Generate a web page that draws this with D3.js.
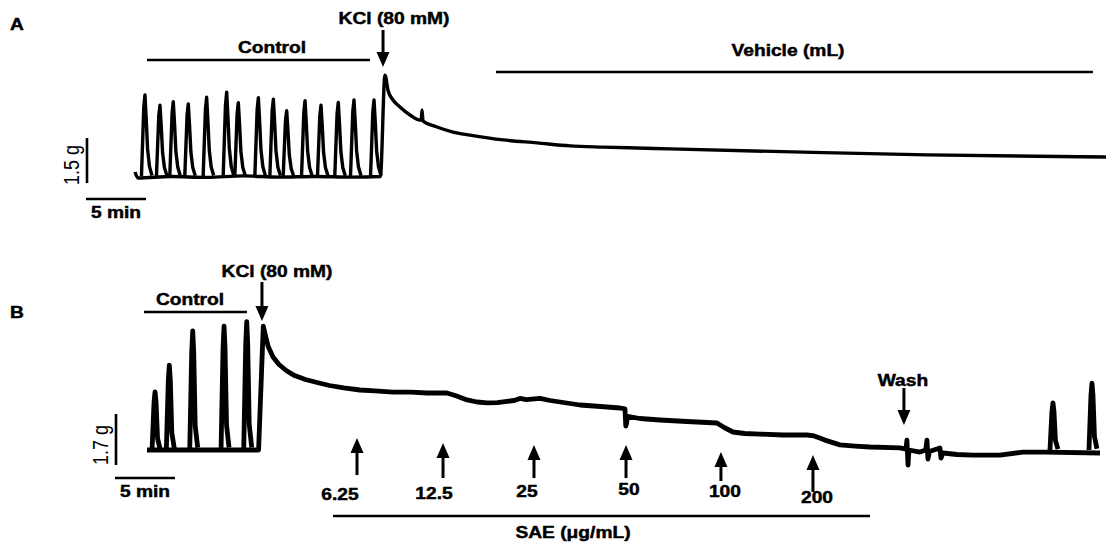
<!DOCTYPE html>
<html>
<head>
<meta charset="utf-8">
<script src="https://cdn.jsdelivr.net/npm/d3@7"></script>
<style>
  body { margin: 0; background: #fff; }
  text { font-family: "Liberation Sans", Arial, sans-serif; fill: #000; }
  .lbl { font-weight: bold; font-size: 16px; stroke: #000; stroke-width: 0.45px; }
  .cal { font-size: 18px; }
</style>
</head>
<body>
<svg id="fig" width="1106" height="544"></svg>
<script>
// ---- panel A: time (min) / force (g) ----
var tonicA = [
  [0, 0.2], [0.25, 0], [3, 0.05], [6, 0.02], [9, 0.07], [12, 0.03], [15, 0.05],
  [18, 0.03], [20.45, 0.05], [20.83, 3.43], [21.1, 2.9], [21.5, 2.6], [22.08, 2.37],
  [22.92, 2.1], [23.75, 1.93], [23.85, 1.93], [23.92, 2.27], [24.0, 1.9],
  [25.17, 1.7], [26.5, 1.53], [27.92, 1.43], [30.67, 1.27], [33.5, 1.17],
  [36.25, 1.07], [39, 1.03], [41.83, 1.0], [44.58, 0.97], [54.83, 0.87],
  [66, 0.77], [80.92, 0.7]
];
var spikeTimeA  = [0.83, 2.08, 3.19, 4.44, 5.97, 7.64, 8.61, 10.28, 11.53, 12.64, 14.17, 15.5, 16.94, 18.25, 19.92];
var spikeForceA = [2.77, 2.43, 2.54, 2.47, 2.69, 2.86, 2.51, 2.68, 2.63, 2.24, 2.58, 2.43, 2.52, 2.6, 2.6];

var periodsA = [
  { name: "Control", from: 1, to: 19.58 },
  { name: "Vehicle (mL)", from: 30.08, to: 79.83 }
];
var kclTimeA = 20.67;

// ---- panel B ----
var tonicB = [
  [0, 0], [9.3, 0], [9.69, 4.13], [9.85, 3.85], [10.1, 3.45], [10.5, 3.1],
  [11.0, 2.85], [11.6, 2.65], [12.3, 2.48], [13.2, 2.35], [14.17, 2.25],
  [15.2, 2.15], [16.4, 2.07], [17.75, 2.0], [19, 1.97], [20.5, 1.93],
  [22, 1.93], [23.33, 1.9], [25, 1.9], [25.8, 1.8], [26.67, 1.67],
  [27.5, 1.6], [28.33, 1.57], [29.2, 1.58], [30, 1.62], [30.6, 1.65],
  [31.08, 1.72], [31.6, 1.68], [32.75, 1.72], [33.6, 1.65], [34.42, 1.6],
  [36.08, 1.5], [37.8, 1.45], [39.42, 1.4], [39.83, 1.37], [39.9, 0.8],
  [39.97, 0.9], [40.05, 1.12], [41.08, 1.05], [42.75, 1.0], [45, 0.95],
  [47.5, 0.9], [48.1, 0.75], [48.83, 0.6], [49.8, 0.55], [51.08, 0.53],
  [53, 0.5], [55, 0.5], [55.6, 0.47], [56.5, 0.33], [57.75, 0.17],
  [59, 0.13], [60.25, 0.1], [62.75, 0.07], [63.25, 0.03], [63.33, 0.33],
  [63.42, -0.5], [63.5, 0], [64.42, -0.07], [64.9, 0.0], [65.0, 0.33],
  [65.08, -0.3], [65.2, -0.05], [66.08, 0.07], [66.17, -0.27], [66.33, -0.1],
  [67.5, -0.15], [68.83, -0.17], [71.08, -0.17], [73, -0.07], [74.83, -0.07],
  [79.42, -0.1]
];
var spikeTimeB  = [0.67, 1.86, 3.81, 6.42, 8.31, 75.5, 78.75];
var spikeForceB = [1.94, 2.83, 3.97, 4.13, 4.28, 1.57, 2.23];

var periodsB = [
  { name: "Control", from: -0.25, to: 8.33 },
  { name: "SAE (\u03bcg/mL)", from: 15.5, to: 60.25 }
];
var kclTimeB = 9.58;
var washTime = 63.08;
var doseTimes  = [17.5, 24.67, 32.25, 39.92, 47.83, 55.5];
var doseLabels = ["6.25", "12.5", "25", "50", "100", "200"];

// ---- layout ----
var svg = d3.select("#fig");
var stretch = 1.2;   // the figure text is a little wide

var xA = d3.scaleLinear().domain([0, 80.92]).range([135, 1106]);
var yA = d3.scaleLinear().domain([0, 1.5]).range([178, 133]);
var xB = d3.scaleLinear().domain([0, 79.42]).range([147, 1100]);
var yB = d3.scaleLinear().domain([0, 1.7]).range([450, 399]);

function label(x, y, str, cls, anchor) {
  return svg.append("text")
    .attr("class", cls || "lbl")
    .attr("text-anchor", anchor || "middle")
    .attr("transform", "translate(" + x + "," + y + ") scale(" + stretch + ",1)")
    .text(str);
}

function hline(x1, x2, y) {
  svg.append("line")
    .attr("x1", x1).attr("x2", x2).attr("y1", y).attr("y2", y)
    .attr("stroke", "#000").attr("stroke-width", 2.6);
}

function arrow(x, yTail, yTip) {
  var dir = yTip > yTail ? 1 : -1;
  var h = 15, w = 6.5;
  svg.append("line")
    .attr("x1", x).attr("x2", x)
    .attr("y1", yTail).attr("y2", yTip - dir * (h - 1))
    .attr("stroke", "#000").attr("stroke-width", 3);
  svg.append("path")
    .attr("d", "M" + (x - w) + "," + (yTip - dir * h) + "L" + (x + w) + "," + (yTip - dir * h) + "L" + x + "," + yTip + "Z")
    .attr("fill", "#000");
}

// spike outline: px offset from peak time, fraction of peak force
var shapeA = [[-3.5, 0.02], [-1.2, 0.85], [0, 1], [1.3, 0.7], [2.6, 0.35], [4.5, 0.14], [7, 0.03]];
var shapeB = [[-3, 0], [-1, 0.82], [0, 1], [1, 0.82], [2.5, 0.2], [5, 0.02]];

function drawTrace(tonic, times, forces, shape, x, y, width, curve) {
  var line = d3.line()
    .x(function(d) { return x(d[0]); })
    .y(function(d) { return y(d[1]); })
    .curve(curve);

  svg.append("path")
    .attr("d", line(tonic))
    .attr("fill", "none")
    .attr("stroke", "#000")
    .attr("stroke-width", width)
    .attr("stroke-linejoin", "round");

  var spike = d3.line()
    .x(function(d) { return d[0]; })
    .y(function(d) { return d[1]; });

  svg.selectAll(null)
    .data(times.map(function(t, i) { return { t: t, f: forces[i] }; }))
    .enter().append("path")
    .attr("d", function(d) {
      return spike(shape.map(function(s) { return [x(d.t) + s[0], y(d.f * s[1])]; }));
    })
    .attr("fill", "none")
    .attr("stroke", "#000")
    .attr("stroke-width", width)
    .attr("stroke-linejoin", "round");
}

// ===== A =====
label(10, 30, "A", "lbl", "start").style("font-size", "16px");

drawTrace(tonicA, spikeTimeA, spikeForceA, shapeA, xA, yA, 3.4, d3.curveMonotoneX);

hline(xA(periodsA[0].from), xA(periodsA[0].to), 60);
label(272, 53, periodsA[0].name);
hline(xA(periodsA[1].from), xA(periodsA[1].to), 72);
label(788, 56, periodsA[1].name);

arrow(xA(kclTimeA), 30, 67);
label(xA(kclTimeA) + 11, 24, "KCl (80 mM)");

// calibration
svg.append("line")
  .attr("x1", 87).attr("x2", 87)
  .attr("y1", 183 - (yA(0) - yA(1.5))).attr("y2", 183)
  .attr("stroke", "#000").attr("stroke-width", 2.6);
svg.append("line")
  .attr("x1", 86).attr("x2", 86 + xA(5) - xA(0))
  .attr("y1", 199).attr("y2", 199)
  .attr("stroke", "#000").attr("stroke-width", 2.6);
svg.append("text")
  .attr("class", "cal")
  .attr("text-anchor", "middle")
  .attr("transform", "translate(79,165) scale(" + stretch + ",1) rotate(-90)")
  .text("1.5 g");
label(116, 218, "5 min");

// ===== B =====
label(10, 318, "B", "lbl", "start").style("font-size", "16px");

drawTrace(tonicB, spikeTimeB, spikeForceB, shapeB, xB, yB, 4.8, d3.curveLinear);

hline(xB(periodsB[0].from), xB(periodsB[0].to), 312);
label(190, 305, periodsB[0].name);
hline(xB(periodsB[1].from), xB(periodsB[1].to), 516);
label(573, 538, periodsB[1].name);

arrow(xB(kclTimeB), 282, 321);
label(xB(kclTimeB) + 15, 277, "KCl (80 mM)");

arrow(xB(washTime), 388, 425);
label(xB(washTime) - 1, 386, "Wash");

var doseTip  = [438, 443, 445, 445, 452, 455];
var doseTail = [475, 478, 478, 478, 481, 492];
var doseDx   = [-17, -9, -7, 3, 4, 4];
var doseBase = [500, 499, 497, 495, 497, 503];
doseTimes.forEach(function(t, i) {
  arrow(xB(t), doseTail[i], doseTip[i]);
  label(xB(t) + doseDx[i], doseBase[i], doseLabels[i]);
});

svg.append("line")
  .attr("x1", 116).attr("x2", 116)
  .attr("y1", 465 - (yB(0) - yB(1.7))).attr("y2", 465)
  .attr("stroke", "#000").attr("stroke-width", 2.6);
svg.append("line")
  .attr("x1", 115).attr("x2", 115 + xB(5) - xB(0))
  .attr("y1", 478).attr("y2", 478)
  .attr("stroke", "#000").attr("stroke-width", 2.6);
svg.append("text")
  .attr("class", "cal")
  .attr("text-anchor", "middle")
  .attr("transform", "translate(108,445) scale(" + stretch + ",1) rotate(-90)")
  .text("1.7 g");
label(145, 497, "5 min");
</script>
</body>
</html>
